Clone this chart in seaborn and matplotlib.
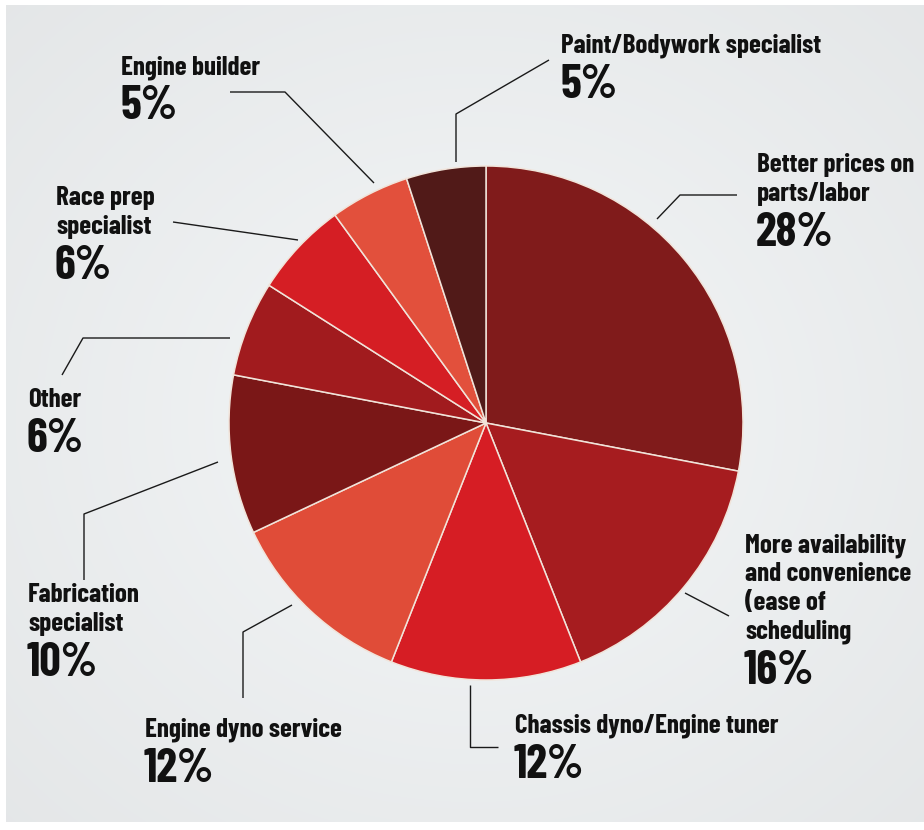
import numpy as np
import matplotlib
matplotlib.use("Agg")
import matplotlib.pyplot as plt
import seaborn as sns

# Survey shares, clockwise from 12 o'clock
categories = [
    "Better prices on\nparts/labor",
    "More availability\nand convenience\n(ease of\nscheduling",
    "Chassis dyno/Engine tuner",
    "Engine dyno service",
    "Fabrication\nspecialist",
    "Other",
    "Race prep\nspecialist",
    "Engine builder",
    "Paint/Bodywork specialist",
]
shares = [28, 16, 12, 12, 10, 6, 6, 5, 5]
slice_colors = ["#801b1b", "#a61c1f", "#d61d24", "#e04c38", "#7a1717",
                "#a11b1e", "#d51e24", "#e2503c", "#511a18"]

# Label layout in pixel space: x, first-line baseline, leader path
label_x = [757, 745, 515, 145, 28, 28, 56, 121, 561]
label_base = [172, 552, 733, 737, 602, 407, 205, 74, 53]
leaders = [
    [(657, 219), (680, 195), (737, 195)],
    [(685, 593), (729, 616)],
    [(470, 685), (470, 747), (498, 747)],
    [(292, 605), (243, 632), (243, 698)],
    [(218, 462), (84, 514), (84, 580)],
    [(62, 375), (83, 338), (230, 338)],
    [(173, 222), (298, 240)],
    [(230, 92), (285, 92), (374, 183)],
    [(456, 162), (456, 114), (549, 60)],
]

W, H = 924, 830
sns.set_theme(style="white")
plt.rcParams["font.family"] = ["Barlow Condensed", "DejaVu Sans"]

fig = plt.figure(figsize=(W / 100, H / 100), dpi=100)
fig.patch.set_facecolor("white")
ax = fig.add_axes([0, 0, 1, 1])

def py(y):
    return H - y

# brushed-metal style backdrop: soft radial lightening toward the middle
yy, xx = np.mgrid[0:H, 0:W]
r = np.hypot((xx - 470) / W, (yy - 420) / H)
shade = 0.97 - 0.085 * r
bg = np.dstack([shade * 0.985, shade * 0.995, shade * 1.0])
bg = np.clip(bg, 0, 1)
ax.imshow(bg, extent=(6, W, py(822), py(5)), zorder=0, interpolation="bilinear")

ax.pie(shares, colors=slice_colors, startangle=90, counterclock=False,
       center=(486, py(423)), radius=257,
       wedgeprops=dict(edgecolor="#f1e4da", linewidth=1.1), frame=False)

name_size, pct_size = 19.5, 34
line_gap, pct_gap = 29, 45
for cat, v, x, b, path in zip(categories, shares, label_x, label_base, leaders):
    lines = cat.split("\n")
    for i, ln in enumerate(lines):
        ax.text(x, py(b + i * line_gap), ln, fontsize=name_size, fontweight="bold",
                color="#111111", ha="left", va="baseline", zorder=5)
    last = b + (len(lines) - 1) * line_gap
    ax.text(x - 1, py(last + pct_gap), f"{v}%", fontsize=pct_size, fontweight="bold",
            color="#111111", ha="left", va="baseline", zorder=5)
    px_ = [p[0] for p in path]
    py_ = [py(p[1]) for p in path]
    ax.plot(px_, py_, color="#1a1a1a", lw=1.0, zorder=4, solid_capstyle="butt")

ax.set_xlim(0, W)
ax.set_ylim(0, H)
ax.set_aspect("equal")
ax.axis("off")

fig.savefig("out.png", dpi=100)
